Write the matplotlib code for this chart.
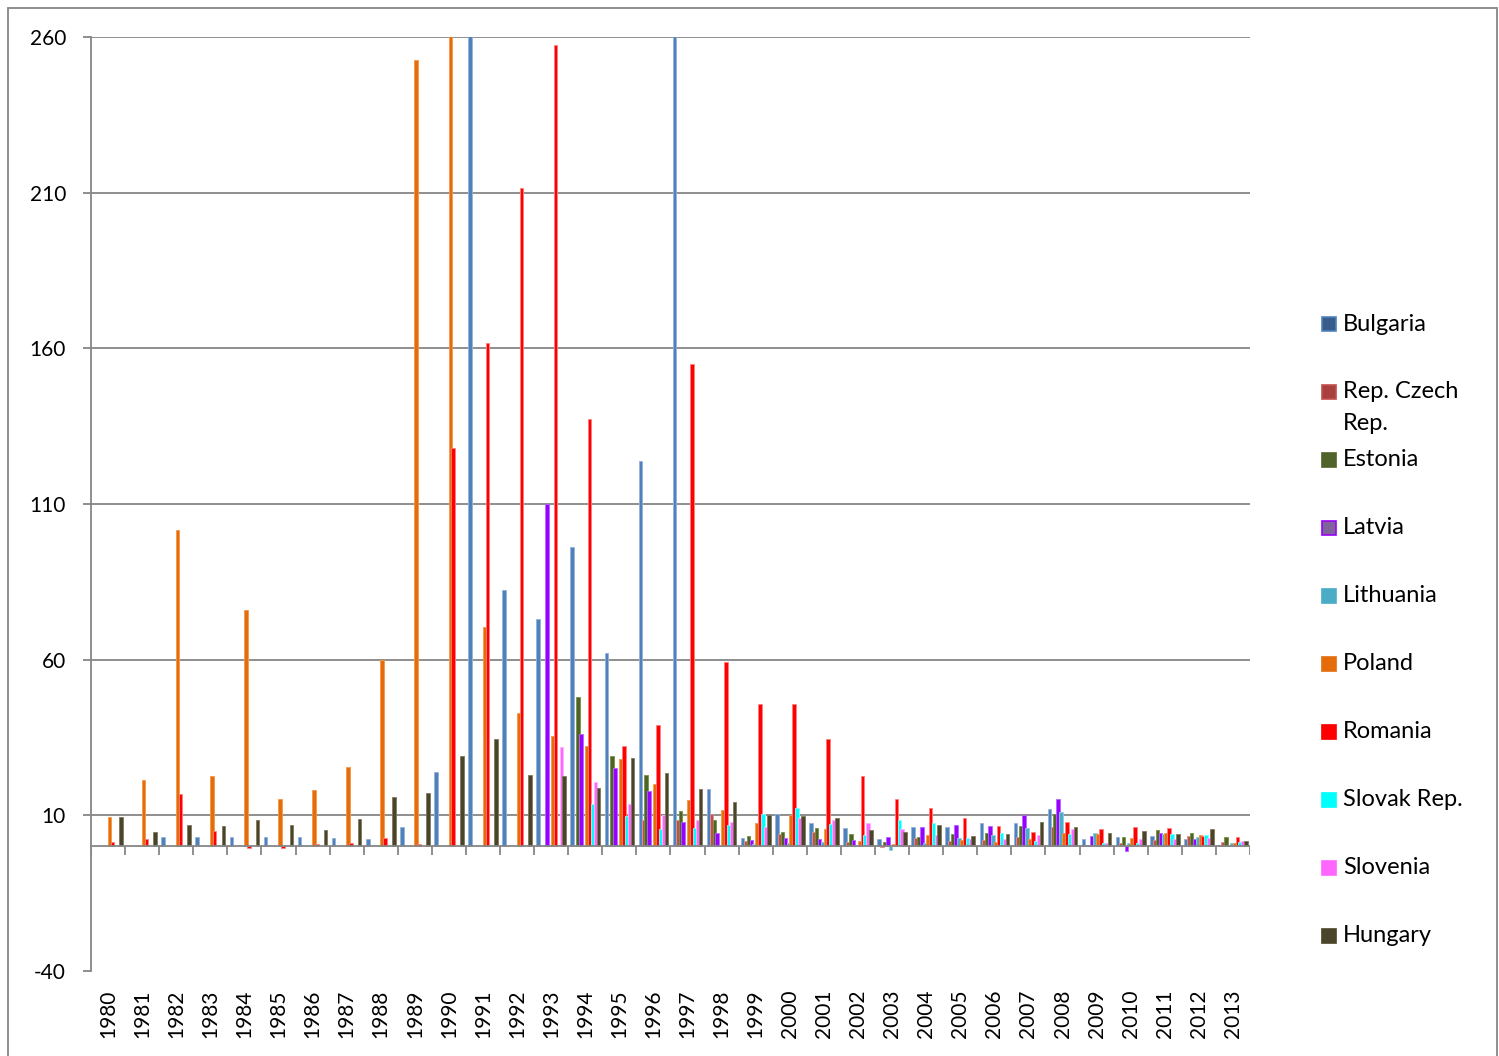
import matplotlib.pyplot as plt
import numpy as np
from matplotlib.patches import Rectangle
from matplotlib.transforms import blended_transform_factory

plt.rcParams['font.family'] = ['Lato', 'DejaVu Sans']
plt.rcParams['axes.unicode_minus'] = False

nan = np.nan

# Years on the category axis
years = [str(y) for y in range(1980, 2014)]

# Values (values above 260 are off the scale)
bulgaria = [nan, nan, 2.9, 2.9, 2.9, 2.9, 2.9, 2.6, 2.5, 6.4, 24, 333.5, 82.5, 73, 96.3, 62.3, 123.8,
            1058, 18.6, 2.7, 10.5, 7.4, 5.9, 2.3, 6.1, 6.1, 7.4, 7.6, 12, 2.5, 3.1, 3.4, 2.5, 0.4]
czech = [nan] * 16 + [8.4, 8.4, 10.4, 1.8, 3.9, 4.7, 1.4, -0.1, 2.6, 1.6, 2.1, 2.9, 6.3, 0.4, 1.2, 2.0, 3.4, 1.4]
estonia = [nan] * 14 + [47.9, 29.2, 23, 11.3, 8.4, 3.3, 4.5, 5.9, 3.9, 1.4, 3.0, 4.1, 4.4, 6.7, 10.4, 0.2,
                        2.9, 5.2, 4.3, 3.2]
latvia = [nan] * 13 + [109.9, 36, 25.2, 17.7, 8, 4.3, 2.2, 2.7, 2.5, 2.2, 2.9, 6.2, 6.9, 6.5, 10.1, 15.3, 3.3,
                       -1.5, 4.3, 2.3, 0.0]
lithuania = [nan] * 19 + [0.8, 1.0, 1.5, 0.3, -1.2, 1.2, 2.7, 3.8, 5.8, 11, 4.2, 1.2, 4.1, 3.1, 1.2]
poland = [9.5, 21.5, 101.5, 22.5, 76, 15.3, 18, 25.4, 60, 252.5, 585.8, 70.5, 43, 35.5, 32.3, 28, 20, 15,
          11.8, 7.4, 10.1, 5.5, 1.9, 0.8, 3.6, 2.1, 1.3, 2.5, 4.2, 4.0, 2.7, 4.2, 3.7, 1.0]
romania = [1.5, 2.4, 17, 4.9, -0.5, -0.4, 0.8, 1.2, 2.7, 0.9, 128, 161.8, 211.5, 257.5, 137.3, 32.4, 39, 155,
           59.2, 45.7, 45.7, 34.5, 22.5, 15.3, 12.2, 9.0, 6.6, 4.8, 7.8, 5.6, 6.1, 5.8, 3.4, 3.2]
slovak = [nan] * 14 + [13.5, 9.9, 5.7, 5.9, 6.8, 10.5, 12.3, 7.2, 3.8, 8.5, 7.6, 2.8, 4.4, 1.9, 3.9, 1.1,
                       1.1, 4.1, 3.6, 1.5]
slovenia = [nan] * 13 + [32, 20.8, 13.7, 10, 8.4, 7.7, 6.1, 9.1, 8.5, 7.5, 5.6, 3.6, 2.5, 2.5, 3.6, 5.5, 1.1,
                         2.3, 2.3, 2.8, 1.8]
hungary = [9.5, 4.8, 7, 6.5, 8.6, 7, 5.4, 8.7, 16, 17.1, 29.2, 34.4, 23, 22.6, 18.8, 28.5, 23.5, 18.3, 14.3,
           10, 9.8, 9.2, 5.3, 4.7, 6.8, 3.5, 3.9, 7.9, 6.1, 4.2, 4.9, 4.0, 5.7, 1.7]

series = [bulgaria, czech, estonia, latvia, lithuania, poland, romania, slovak, slovenia, hungary]
labels = ["Bulgaria", "Rep. Czech\nRep.", "Estonia", "Latvia", "Lithuania", "Poland", "Romania",
          "Slovak Rep.", "Slovenia", "Hungary"]
colors = ["#4F81BD", "#C0504D", "#4F6228", "#9900FF", "#4BACC6", "#E46C0A", "#FF0000", "#00FFFF",
          "#FF66FF", "#4A452A"]
edges = ["#95B3D7", "#D99694", "#77933C", "#B266FF", "#93CDDD", "#F79646", "#FF7F7F", "#7FFFFF",
         "#FFB2FF", "#7F7A5C"]
legend_fill = ["#385D8A", "#A9403D", "#4F6228", "#7F6399", "#4BACC6", "#E46C0A", "#FF0000", "#00FFFF",
               "#FF66FF", "#4A452A"]
legend_edge = ["#4F81BD", "#C0504D", "#4F6228", "#9900FF", "#4BACC6", "#E46C0A", "#FF0000", "#00FFFF",
               "#FF66FF", "#4A452A"]

W, H = 1499, 1056
fig = plt.figure(figsize=(W / 100, H / 100), dpi=100)
ax = fig.add_axes([91 / W, 1 - 971 / H, (1250 - 91) / W, (971 - 37) / H])

x = np.arange(len(years))
step = 0.085
for i, vals in enumerate(series):
    ax.bar(x + (i - 4.5) * step, vals, width=0.105, color=colors[i], edgecolor=edges[i],
           linewidth=0.6, zorder=3)

gray = "#868686"
ax.set_xlim(-0.5, len(years) - 0.5)
ax.set_ylim(-40, 260)
ax.set_yticks(np.arange(-40, 261, 50))
for y in np.arange(10, 261, 50):
    ax.axhline(y, color=gray, lw=1.3, zorder=1)

# category axis crossing at zero, ticks between the years
ax.axhline(0, color=gray, lw=1.3, zorder=4)
ax.vlines(np.arange(-0.5, len(years)), -2.6, 0, color=gray, lw=1.3, zorder=4)

for s in ["top", "right", "bottom"]:
    ax.spines[s].set_visible(False)
ax.spines["left"].set_color(gray)
ax.spines["left"].set_linewidth(1.3)
ax.tick_params(axis="y", length=6, width=1.3, color=gray, pad=12, labelsize=15)
ax.set_xticks([])

# year labels at the bottom of the plot
tr = blended_transform_factory(ax.transData, ax.transAxes)
for i, yr in enumerate(years):
    ax.text(i, -0.02, yr, transform=tr, rotation=90, ha="center", va="top", fontsize=15)

# legend drawn by hand
for i, lab in enumerate(labels):
    yc = 324 + i * 68
    fig.patches.append(Rectangle(((1322) / W, 1 - (yc + 7) / H), 14 / W, 14 / H,
                                 transform=fig.transFigure, facecolor=legend_fill[i],
                                 edgecolor=legend_edge[i], lw=1.2))
    for k, line in enumerate(lab.split("\n")):
        fig.text(1343 / W, 1 - (yc + k * 32) / H, line, va="center", ha="left", fontsize=17)

# outer chart border
fig.patches.append(Rectangle((8 / W, -0.01), (W - 10) / W, 1 - 8 / H + 0.01,
                             transform=fig.transFigure, fill=False, edgecolor=gray, lw=1.3))

fig.savefig("out.png", dpi=100)
